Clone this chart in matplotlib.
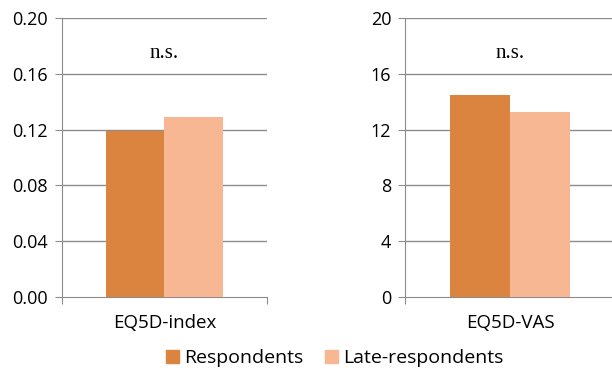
import numpy as np
import matplotlib
matplotlib.use("Agg")
import matplotlib.pyplot as plt
from matplotlib.patches import Patch

plt.rcParams['font.family'] = ['Open Sans', 'DejaVu Sans']

series = ["Respondents", "Late-respondents"]
colors = ["#DA843F", "#F8B793"]

index_cat = "EQ5D-index"
index_vals = [0.119, 0.129]
index_ticks = [0.00, 0.04, 0.08, 0.12, 0.16, 0.20]

vas_cat = "EQ5D-VAS"
vas_vals = [14.5, 13.25]
vas_ticks = [0, 4, 8, 12, 16, 20]

fig = plt.figure(figsize=(6.12, 3.72), dpi=100)
ax1 = fig.add_axes([0.101, 0.2016, 0.335, 0.75])
ax2 = fig.add_axes([0.662, 0.2016, 0.343, 0.75])

grid_col = "#8c8c8c"
bw = 0.286


def draw(ax, cat, vals, ticks, fmt):
    for i, v in enumerate(vals):
        ax.bar((i - 0.5) * bw, v, width=bw, color=colors[i], zorder=3)
    ax.set_xlim(-0.5, 0.5)
    ax.set_ylim(ticks[0], ticks[-1])
    ax.set_yticks(ticks)
    ax.set_yticklabels([fmt.format(t) for t in ticks], fontsize=13)
    ax.set_xticks([-0.5, 0.5])
    ax.set_xticklabels([])
    ax.tick_params(axis='x', length=5, color=grid_col, direction='out')
    ax.tick_params(axis='y', length=5, color=grid_col, direction='out', pad=5)
    for t in ticks[1:]:
        ax.axhline(t, color=grid_col, lw=1, zorder=1)
    for s in ["top", "right"]:
        ax.spines[s].set_visible(False)
    ax.spines["left"].set_color(grid_col)
    ax.spines["bottom"].set_color(grid_col)
    ax.text(0, -0.110, cat, transform=ax.get_xaxis_transform(), ha='center', va='baseline', fontsize=13.5)
    ax.text(0, 0.855, "n.s.", transform=ax.get_xaxis_transform(), ha='center', va='baseline',
            fontsize=15, family=['Liberation Serif', 'DejaVu Serif'])


draw(ax1, index_cat, index_vals, index_ticks, "{:.2f}")
draw(ax2, vas_cat, vas_vals, vas_ticks, "{:d}")

handles = [Patch(color=c, label=s) for c, s in zip(colors, series)]
fig.legend(handles=handles, loc='center', bbox_to_anchor=(0.547, 0.037), ncol=2, frameon=False,
           fontsize=14, handlelength=0.67, handleheight=0.67, handletextpad=0.26, columnspacing=1.08,
           borderpad=0)

fig.savefig("out.png", dpi=100)
